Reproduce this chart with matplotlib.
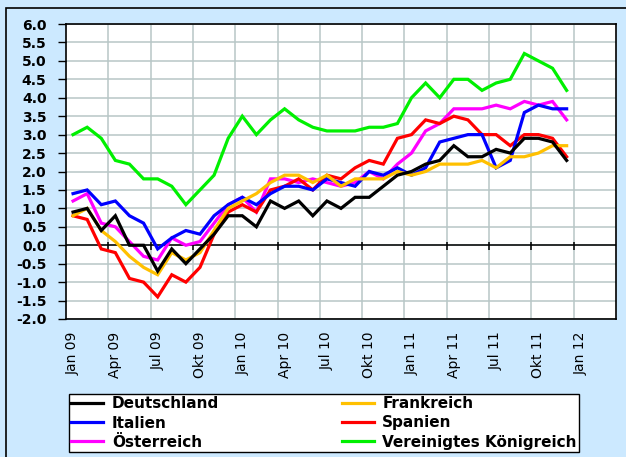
import matplotlib
matplotlib.use("Agg")
import matplotlib.pyplot as plt
from matplotlib.patches import Rectangle
import numpy as np

months = ["Jan 09", "Feb 09", "Mär 09", "Apr 09", "Mai 09", "Jun 09", "Jul 09", "Aug 09", "Sep 09",
          "Okt 09", "Nov 09", "Dez 09", "Jan 10", "Feb 10", "Mär 10", "Apr 10", "Mai 10", "Jun 10",
          "Jul 10", "Aug 10", "Sep 10", "Okt 10", "Nov 10", "Dez 10", "Jan 11", "Feb 11", "Mär 11",
          "Apr 11", "Mai 11", "Jun 11", "Jul 11", "Aug 11", "Sep 11", "Okt 11", "Nov 11", "Dez 11",
          "Jan 12", "Feb 12", "Mär 12"]
tick_labels = ["Jan 09", "Apr 09", "Jul 09", "Okt 09", "Jan 10", "Apr 10", "Jul 10", "Okt 10",
               "Jan 11", "Apr 11", "Jul 11", "Okt 11", "Jan 12"]

deutschland = [0.9, 1.0, 0.4, 0.8, 0.0, 0.0, -0.7, -0.1, -0.5, -0.1, 0.3, 0.8,
               0.8, 0.5, 1.2, 1.0, 1.2, 0.8, 1.2, 1.0, 1.3, 1.3, 1.6, 1.9,
               2.0, 2.2, 2.3, 2.7, 2.4, 2.4, 2.6, 2.5, 2.9, 2.9, 2.8, 2.3]
frankreich = [0.8, 1.0, 0.4, 0.1, -0.3, -0.6, -0.8, -0.2, -0.4, -0.2, 0.4, 1.0,
              1.2, 1.4, 1.7, 1.9, 1.9, 1.7, 1.9, 1.6, 1.8, 1.8, 1.8, 2.0,
              1.9, 2.0, 2.2, 2.2, 2.2, 2.3, 2.1, 2.4, 2.4, 2.5, 2.7, 2.7]
italien = [1.4, 1.5, 1.1, 1.2, 0.8, 0.6, -0.1, 0.2, 0.4, 0.3, 0.8, 1.1,
           1.3, 1.1, 1.4, 1.6, 1.6, 1.5, 1.8, 1.7, 1.6, 2.0, 1.9, 2.1,
           1.9, 2.1, 2.8, 2.9, 3.0, 3.0, 2.1, 2.3, 3.6, 3.8, 3.7, 3.7]
spanien = [0.8, 0.7, -0.1, -0.2, -0.9, -1.0, -1.4, -0.8, -1.0, -0.6, 0.3, 0.9,
           1.1, 0.9, 1.5, 1.6, 1.8, 1.5, 1.9, 1.8, 2.1, 2.3, 2.2, 2.9,
           3.0, 3.4, 3.3, 3.5, 3.4, 3.0, 3.0, 2.7, 3.0, 3.0, 2.9, 2.4]
oesterreich = [1.2, 1.4, 0.6, 0.5, 0.1, -0.3, -0.4, 0.2, 0.0, 0.1, 0.6, 1.1,
               1.3, 0.9, 1.8, 1.8, 1.7, 1.8, 1.7, 1.6, 1.7, 2.0, 1.8, 2.2,
               2.5, 3.1, 3.3, 3.7, 3.7, 3.7, 3.8, 3.7, 3.9, 3.8, 3.9, 3.4]
uk = [3.0, 3.2, 2.9, 2.3, 2.2, 1.8, 1.8, 1.6, 1.1, 1.5, 1.9, 2.9,
      3.5, 3.0, 3.4, 3.7, 3.4, 3.2, 3.1, 3.1, 3.1, 3.2, 3.2, 3.3,
      4.0, 4.4, 4.0, 4.5, 4.5, 4.2, 4.4, 4.5, 5.2, 5.0, 4.8, 4.2]

series = [
    ("Vereinigtes Königreich", uk, "#00F000"),
    ("Österreich", oesterreich, "#FF00FF"),
    ("Spanien", spanien, "#FF0000"),
    ("Italien", italien, "#0000FF"),
    ("Frankreich", frankreich, "#FFC000"),
    ("Deutschland", deutschland, "#000000"),
]
legend_order = ["Deutschland", "Italien", "Österreich", "Frankreich", "Spanien", "Vereinigtes Königreich"]

bg = "#CCE9FF"
W, H = 626, 457
fig = plt.figure(figsize=(W / 100, H / 100), dpi=100, facecolor=bg)

# outer frame (left and top visible)
fig.patches.append(Rectangle((6 / W, -0.2), 1.5, (H - 8) / H + 0.2, transform=fig.transFigure,
                             fill=False, edgecolor="black", linewidth=1.2))

ax = fig.add_axes([66 / W, 1 - 319 / H, (616 - 66) / W, (319 - 24) / H])
ax.set_facecolor("white")

x_idx = np.arange(len(months))
ax.set_xlim(-0.5, len(months) - 0.5)
ax.set_ylim(-2.0, 6.0)

# grid
yt = np.arange(-2.0, 6.01, 0.5)
for y in yt:
    ax.axhline(y, color="#B8C6C6", linewidth=1.1, zorder=1)
bounds = np.arange(2.5, len(months) - 1, 3)
for b in bounds:
    ax.axvline(b, color="#B8C6C6", linewidth=1.1, zorder=1)

# zero line with tick marks
ax.axhline(0, color="black", linewidth=1.1, zorder=2)
ax.vlines(bounds, -0.13, 0.08, color="black", linewidth=1.1, zorder=2)

handles = {}
n = len(deutschland)
for name, vals, col in series:
    ln, = ax.plot(x_idx[:n], vals, color=col, linewidth=2.3, label=name, zorder=3,
                  solid_joinstyle="miter")
    handles[name] = ln

ax.set_yticks(yt)
ax.set_yticklabels([f"{v:.1f}" for v in yt], fontweight="bold", fontsize=10,
                   family="DejaVu Sans")
ax.tick_params(axis="y", direction="out", length=6, width=1, pad=8, colors="black")

pos = [months.index(t) for t in tick_labels]
ax.set_xticks(pos)
ax.set_xticklabels(tick_labels, rotation=90, fontsize=10, family="DejaVu Sans")
ax.tick_params(axis="x", length=0, pad=9)

for s in ax.spines.values():
    s.set_color("black")
    s.set_linewidth(1.2)

leg = fig.legend([handles[k] for k in legend_order], legend_order, ncol=2,
                 loc="center", mode="expand",
                 bbox_to_anchor=(69 / W, 1 - 453 / H, (579 - 69) / W, (453 - 393) / H),
                 prop={"family": "DejaVu Sans", "weight": "bold", "size": 11},
                 frameon=True, fancybox=False, edgecolor="black", facecolor="white",
                 handlelength=2.1, handletextpad=0.55, labelspacing=0.28,
                 borderaxespad=0, borderpad=0.15, columnspacing=2.0)
leg.get_frame().set_linewidth(1.0)
leg.get_frame().set_alpha(1)

fig.savefig("out.png", dpi=100, facecolor=bg)
